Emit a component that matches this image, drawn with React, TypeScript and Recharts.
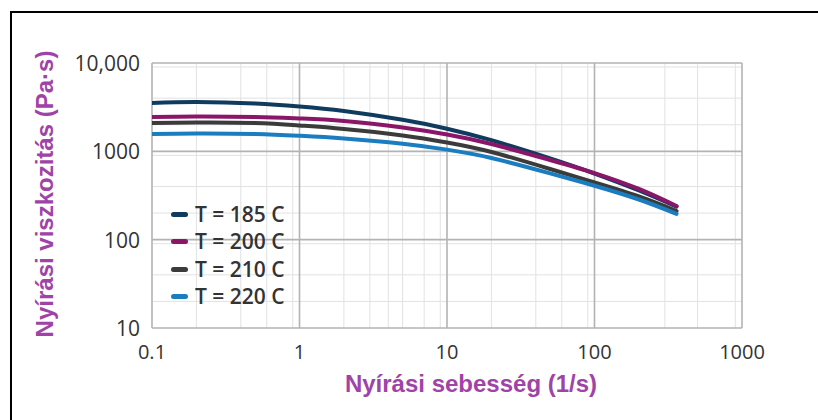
import { LineChart, Line, XAxis, YAxis, CartesianGrid, Legend } from "recharts";

// shear rate (1/s) and viscosity (Pa·s)
const shearRate = [0.1, 0.2, 0.5, 1, 2, 5, 10, 20, 50, 100, 200, 360];
const visc185 = [3524, 3620, 3480, 3218, 2862, 2275, 1804, 1337, 832, 561, 361, 237];
const visc200 = [2447, 2480, 2447, 2354, 2205, 1862, 1551, 1211, 798, 568, 375, 240];
const visc210 = [2093, 2121, 2093, 1961, 1790, 1511, 1259, 983, 631, 444, 308, 211];
const visc220 = [1571, 1592, 1571, 1499, 1397, 1217, 1046, 841, 564, 408, 285, 196];

const seriesNames = ["T = 185 C", "T = 200 C", "T = 210 C", "T = 220 C"];
const seriesKeys = ["t185", "t200", "t210", "t220"];
const seriesColors = ["#0f3b5f", "#8a1669", "#3b3b3b", "#1a7dc0"];

const xTicks = [0.1, 1, 10, 100, 1000];
const xTickLabels = ["0.1", "1", "10", "100", "1000"];
const yTicks = [10, 100, 1000, 10000];
const yTickLabels = ["10", "100", "1000", "10,000"];

const decadesX = [0.1, 1, 10, 100];
const decadesY = [10, 100, 1000];
const minorSteps = [2, 3, 4, 5, 6, 7, 8, 9];

const minorX = decadesX.flatMap((d) => minorSteps.map((m) => +(d * m).toPrecision(3)));
const minorY = decadesY.flatMap((d) => minorSteps.map((m) => d * m));

const data = shearRate.map((x, i) => ({
  x,
  t185: visc185[i],
  t200: visc200[i],
  t210: visc210[i],
  t220: visc220[i],
}));

const TITLE_COLOR = "#a043a8";
const TEXT_COLOR = "#333333";

function XTick(props: any) {
  const i = xTicks.indexOf(props.payload.value);
  return (
    <text x={props.x} y={props.y + 31} textAnchor="middle" fill={TEXT_COLOR} fontSize={20} fontFamily="'Open Sans', sans-serif">
      {xTickLabels[i]}
    </text>
  );
}

function YTick(props: any) {
  const i = yTicks.indexOf(props.payload.value);
  return (
    <text x={props.x - 12} y={props.y + 8} textAnchor="end" fill={TEXT_COLOR} fontSize={21} fontFamily="'Open Sans', sans-serif">
      {yTickLabels[i]}
    </text>
  );
}

function LegendBox({ payload }: any) {
  return (
    <div style={{ fontFamily: "'Open Sans', sans-serif" }}>
      {(payload || []).map((p: any) => (
        <div key={p.value} style={{ display: "flex", alignItems: "center", height: 27.3, whiteSpace: "nowrap" }}>
          <span style={{ width: 17, height: 5, borderRadius: 3, background: p.color, marginRight: 7 }} />
          <span style={{ fontSize: 21, fontWeight: 600, color: TEXT_COLOR, lineHeight: "27px" }}>{p.value}</span>
        </div>
      ))}
    </div>
  );
}

export default function App() {
  return (
    <div style={{ position: "absolute", left: 0, top: 0, width: 818, height: 420, background: "#fff", overflow: "hidden" }}>
      <div
        style={{
          position: "absolute",
          left: 10,
          top: 11,
          width: 820,
          height: 420,
          borderTop: "2px solid #000",
          borderLeft: "2px solid #000",
          boxSizing: "border-box",
        }}
      />
      <LineChart width={818} height={420} data={data} margin={{ top: 63, right: 76, bottom: 0, left: 0 }}>
        <CartesianGrid horizontalValues={minorY} verticalValues={minorX} stroke="#e2e2e2" strokeWidth={1} />
        <CartesianGrid horizontalValues={yTicks} verticalValues={xTicks} stroke="#b3b3b3" strokeWidth={1.6} />
        <XAxis
          type="number"
          dataKey="x"
          scale="log"
          domain={[0.1, 1000]}
          ticks={xTicks}
          allowDataOverflow
          height={92}
          axisLine={false}
          tickLine={false}
          tickSize={0}
          tickMargin={0}
          tick={<XTick />}
          label={{
            content: () => (
              <text x={471} y={392} textAnchor="middle" fill={TITLE_COLOR} fontSize={24} fontWeight="bold" fontFamily="'Liberation Sans', Arial, sans-serif">
                Nyírási sebesség (1/s)
              </text>
            ),
          }}
        />
        <YAxis
          type="number"
          scale="log"
          domain={[10, 10000]}
          ticks={yTicks}
          allowDataOverflow
          width={152}
          axisLine={false}
          tickLine={false}
          tickSize={0}
          tickMargin={0}
          tick={<YTick />}
          label={{
            content: () => (
              <text
                x={0}
                y={0}
                transform="translate(53 194) rotate(-90)"
                textAnchor="middle"
                fill={TITLE_COLOR}
                fontSize={24}
                fontWeight="bold"
                fontFamily="'Liberation Sans', Arial, sans-serif"
              >
                Nyírási viszkozitás (Pa·s)
              </text>
            ),
          }}
        />
        <Legend
          layout="vertical"
          align="center"
          verticalAlign="middle"
          wrapperStyle={{ left: 171, top: 201, width: "auto" }}
          content={<LegendBox />}
        />
        {seriesKeys.map((k, i) => (
          <Line
            key={k}
            type="natural"
            dataKey={k}
            name={seriesNames[i]}
            stroke={seriesColors[i]}
            strokeWidth={4}
            strokeLinecap="round"
            dot={false}
            activeDot={false}
            isAnimationActive={false}
          />
        ))}
      </LineChart>
    </div>
  );
}
